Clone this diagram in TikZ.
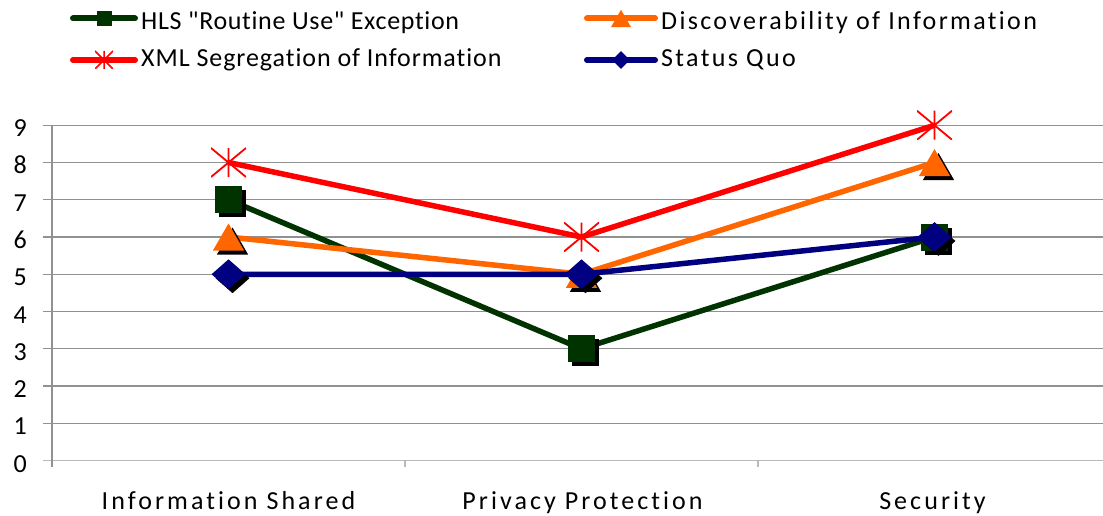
\documentclass[tikz,border=0pt]{standalone}
\usepackage{fontspec}
\setmainfont{Carlito}[Ligatures={TeXOff,CommonOff}]
\newfontfamily\lsa{Carlito}[LetterSpace=2.6,Ligatures={TeXOff,CommonOff}]
\newfontfamily\lsd{Carlito}[LetterSpace=3.6,Ligatures={TeXOff,CommonOff}]
\newfontfamily\lsb{Carlito}[LetterSpace=9,Ligatures={TeXOff,CommonOff}]
\newfontfamily\lsc{Carlito}[LetterSpace=11.8,Ligatures={TeXOff,CommonOff}]
\usetikzlibrary{shapes.geometric,shadows}
\definecolor{hlsc}{RGB}{0,51,0}
\definecolor{discc}{RGB}{255,102,0}
\definecolor{xmlc}{RGB}{255,0,0}
\definecolor{sqc}{RGB}{0,0,128}
\definecolor{gridc}{RGB}{145,145,145}
\definecolor{axisc}{RGB}{185,185,185}
\begin{document}
\begin{tikzpicture}[x=1pt,y=-1pt,
  gridline/.style={draw=gridc, line width=1.3pt},
  axisline/.style={draw=axisc, line width=1.6pt},
  serie/.style={line width=5.5pt, line join=round},
  legline/.style={line width=6pt, line cap=round},
  lab/.style={font=\fontsize{26}{30}\selectfont, inner sep=0pt, text=black},
  shad/.style={drop shadow={shadow xshift=4pt, shadow yshift=-4pt, shadow scale=1, fill=black, opacity=1}},
  sqm/.style={rectangle, fill=hlsc, minimum size=27pt, inner sep=0pt},
  trm/.style={regular polygon, regular polygon sides=3, fill=discc, minimum size=36pt, inner sep=0pt, yshift=-4.5pt},
  dim/.style={diamond, fill=sqc, minimum width=34pt, minimum height=30pt, inner sep=0pt},
  xm/.style={rectangle, minimum width=35pt, minimum height=29pt, inner sep=0pt,
    path picture={\draw[xmlc, line width=1.8pt]
      (path picture bounding box.north) -- (path picture bounding box.south)
      (path picture bounding box.north west) -- (path picture bounding box.south east)
      (path picture bounding box.north east) -- (path picture bounding box.south west);}},
  sqs/.style={rectangle, fill=hlsc, minimum size=15pt, inner sep=0pt},
  trs/.style={regular polygon, regular polygon sides=3, fill=discc, minimum size=23pt, inner sep=0pt, yshift=-2.8pt},
  dis/.style={diamond, fill=sqc, minimum width=18pt, minimum height=18pt, inner sep=0pt},
  xs/.style={rectangle, minimum width=18pt, minimum height=18pt, inner sep=0pt,
    path picture={\draw[xmlc, line width=1.5pt]
      (path picture bounding box.north) -- (path picture bounding box.south)
      (path picture bounding box.north west) -- (path picture bounding box.south east)
      (path picture bounding box.north east) -- (path picture bounding box.south west);}}
]
\useasboundingbox (0,0) rectangle (1103,516);
\fill[white] (0,0) rectangle (1103,516);

% grid and axes
\foreach \v in {1,...,9}{
  \draw[gridline] (52,{460.5-37.25*\v}) -- (1103,{460.5-37.25*\v});
  \draw[gridline] (43,{460.5-37.25*\v}) -- (52,{460.5-37.25*\v});
}
\draw[axisline] (43,460.5) -- (1103,460.5);
\draw[gridline] (52,125.25) -- (52,467);
\draw[axisline] (405,460.5) -- (405,467);
\draw[axisline] (758,460.5) -- (758,467);

% y labels
\foreach \v in {0,...,9}{
  \node[lab, anchor=base east] (ylab\v) at (27,{460.5-37.25*\v+11.5}) {\v};
}

% category labels
\node[lab, anchor=base] (cat1) at (228.5,509) {\lsc Information Shared};
\node[lab, anchor=base] (cat2) at (582.5,509) {\lsc Privacy Protection};
\node[lab, anchor=base] (cat3) at (932.5,509) {\lsc Security};

% data points
\coordinate (h1) at (228.5,199.75);
\coordinate (h2) at (581.5,348.75);
\coordinate (h3) at (934.5,237);
\coordinate (d1) at (228.5,237);
\coordinate (d2) at (581.5,274.25);
\coordinate (d3) at (934.5,162.5);
\coordinate (x1) at (228.5,162.5);
\coordinate (x2) at (581.5,237);
\coordinate (x3) at (934.5,125.25);
\coordinate (s1) at (228.5,274.25);
\coordinate (s2) at (581.5,274.25);
\coordinate (s3) at (934.5,237);

% HLS
\draw[serie, hlsc] (h1) -- (h2) -- (h3);
\foreach \p in {1,2,3}{ \node[sqm, shad] (hm\p) at (h\p) {}; }
% Discoverability
\draw[serie, discc] (d1) -- (d2) -- (d3);
\foreach \p in {1,2,3}{ \node[trm, shad] (dm\p) at (d\p) {}; }
% XML
\draw[serie, xmlc] (x1) -- (x2) -- (x3);
\foreach \p in {1,2,3}{ \node[xm] (xm\p) at (x\p) {}; }
% Status quo
\draw[serie, sqc] (s1) -- (s2) -- (s3);
\foreach \p in {1,2,3}{ \node[dim, shad] (sm\p) at (s\p) {}; }

% legend
\coordinate (la1) at (73,18.5);  \coordinate (lb1) at (135,18.5);
\coordinate (la2) at (587,18.5); \coordinate (lb2) at (655,18.5);
\coordinate (la3) at (73,60);    \coordinate (lb3) at (135,60);
\coordinate (la4) at (587,60);   \coordinate (lb4) at (655,60);
\draw[legline, hlsc] (la1) -- (lb1);
\node[sqs] (lm1) at (104,18.5) {};
\draw[legline, discc] (la2) -- (lb2);
\node[trs] (lm2) at (621,18.5) {};
\draw[legline, xmlc] (la3) -- (lb3);
\node[xs] (lm3) at (104,60) {};
\draw[legline, sqc] (la4) -- (lb4);
\node[dis] (lm4) at (621,60) {};
\node[lab, anchor=base west] (lt1) at (141,30) {\lsa HLS "Routine Use" Exception};
\node[lab, anchor=base west] (lt2) at (661,30) {\lsb Discoverability of Information};
\node[lab, anchor=base west] (lt3) at (141,67) {\lsd XML Segregation of Information};
\node[lab, anchor=base west] (lt4) at (661,67) {\lsb Status Quo};
\end{tikzpicture}
\end{document}
